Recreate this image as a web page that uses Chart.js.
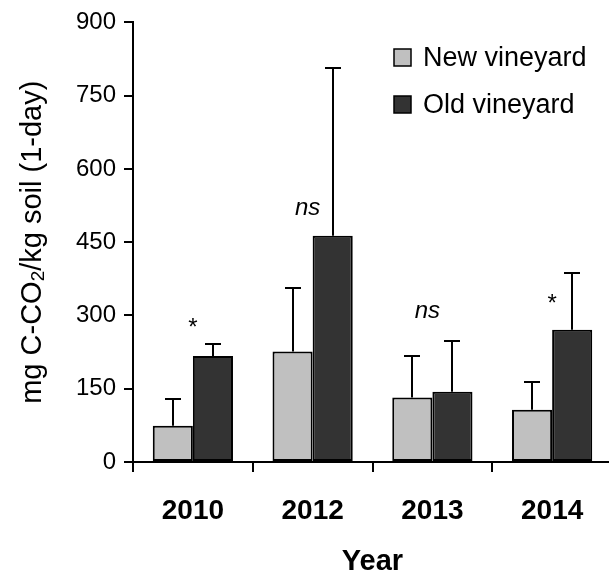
<!DOCTYPE html>
<html>
<head>
<meta charset="utf-8">
<script src="https://cdn.jsdelivr.net/npm/chart.js@4"></script>
<style>
  html, body { margin: 0; padding: 0; background: #fff; overflow: hidden; }
  #wrap { width: 614px; height: 579px; position: relative; }
</style>
</head>
<body>
<div id="wrap"><canvas id="c"></canvas></div>
<script>
// Soil respiration, 1-day incubation
const years = ['2010', '2012', '2013', '2014'];
const newVineyard = [74, 226, 132, 107];
const oldVineyard = [217, 463, 144, 271];
const newErr = [54, 131, 86, 57];
const oldErr = [25, 344, 103, 115];
const sigText = ['*', 'ns', 'ns', '*'];
const sigAt = [260, 505, 295, 309];
const yTicks = [0, 150, 300, 450, 600, 750, 900];

const FONT = '"Liberation Sans", Arial, Helvetica, sans-serif';

// whiskers above each bar
const errorBars = {
  id: 'errorBars',
  afterDatasetsDraw(chart) {
    const ctx = chart.ctx, ys = chart.scales.y;
    [newErr, oldErr].forEach((errs, di) => {
      const meta = chart.getDatasetMeta(di);
      const vals = chart.data.datasets[di].data;
      meta.data.forEach((bar, i) => {
        const x = Math.round(bar.x);
        const y0 = ys.getPixelForValue(vals[i]);
        const y1 = Math.round(ys.getPixelForValue(vals[i] + errs[i]));
        ctx.save();
        ctx.strokeStyle = '#000';
        ctx.lineWidth = 2;
        ctx.beginPath();
        ctx.moveTo(x, y0);
        ctx.lineTo(x, y1);
        ctx.moveTo(x - 8, y1);
        ctx.lineTo(x + 8, y1);
        ctx.stroke();
        ctx.restore();
      });
    });
  }
};

// significance marks over each year
const sigLabels = {
  id: 'sigLabels',
  afterDraw(chart) {
    const ctx = chart.ctx, xs = chart.scales.x, ys = chart.scales.y;
    ctx.save();
    ctx.fillStyle = '#000';
    ctx.textAlign = 'center';
    ctx.textBaseline = 'alphabetic';
    sigText.forEach((t, i) => {
      ctx.font = (t === 'ns' ? 'italic ' : '') + '24px ' + FONT;
      const shift = t === 'ns' ? -5 : 0;
      ctx.fillText(t, xs.getPixelForValue(i) + shift, ys.getPixelForValue(sigAt[i]));
    });
    ctx.restore();
  }
};

// legend boxes in the upper right of the plot
const legendBox = {
  id: 'legendBox',
  afterDraw(chart) {
    const ctx = chart.ctx;
    ctx.save();
    chart.data.datasets.forEach((ds, i) => {
      const cy = 57.5 + i * 47;
      ctx.fillStyle = ds.backgroundColor;
      ctx.fillRect(394, cy - 8.5, 17, 17);
      ctx.strokeStyle = '#000';
      ctx.lineWidth = 1.5;
      ctx.strokeRect(394, cy - 8.5, 17, 17);
      ctx.fillStyle = '#000';
      ctx.font = '27px ' + FONT;
      ctx.textAlign = 'left';
      ctx.textBaseline = 'middle';
      ctx.fillText(ds.label, 423, cy + 1);
    });
    ctx.restore();
  }
};

// rotated y-axis title with subscript 2
const yTitle = {
  id: 'yTitle',
  afterDraw(chart) {
    const ctx = chart.ctx, a = chart.chartArea;
    const parts = [
      { t: 'mg C-CO', s: 29, dy: 0 },
      { t: '2', s: 19, dy: 3 },
      { t: '/kg soil (1-day)', s: 29, dy: 0 }
    ];
    ctx.save();
    ctx.translate(41, (a.top + a.bottom) / 2);
    ctx.rotate(-Math.PI / 2);
    ctx.fillStyle = '#000';
    ctx.textBaseline = 'alphabetic';
    ctx.textAlign = 'left';
    let total = 0;
    parts.forEach(p => { ctx.font = p.s + 'px ' + FONT; p.w = ctx.measureText(p.t).width; total += p.w; });
    let x = -total / 2;
    parts.forEach(p => {
      ctx.font = p.s + 'px ' + FONT;
      ctx.fillText(p.t, x, p.dy);
      x += p.w;
    });
    ctx.restore();
  }
};

new Chart(document.getElementById('c'), {
  type: 'bar',
  data: {
    labels: years,
    datasets: [
      { label: 'New vineyard', data: newVineyard, backgroundColor: '#C0C0C0',
        borderColor: '#000', borderWidth: 2, borderSkipped: false },
      { label: 'Old vineyard', data: oldVineyard, backgroundColor: '#333333',
        borderColor: '#000', borderWidth: 2, borderSkipped: false }
    ]
  },
  options: {
    responsive: true,
    maintainAspectRatio: false,
    animation: false,
    events: [],
    layout: { padding: { top: 22, right: 2, left: 0, bottom: 0 } },
    datasets: { bar: { categoryPercentage: 0.67, barPercentage: 1.0 } },
    plugins: { legend: { display: false }, tooltip: { enabled: false } },
    scales: {
      x: {
        border: { color: '#000', width: 2 },
        grid: { drawOnChartArea: false, drawTicks: true, tickLength: 10, color: '#000', lineWidth: 2, offset: true },
        ticks: { color: '#000', font: { family: FONT, size: 28, weight: 'bold' }, padding: 22 },
        title: { display: true, text: 'Year', color: '#000',
                 font: { family: FONT, size: 29, weight: 'bold' }, padding: { top: 0, bottom: 0 } },
        afterFit: s => { s.height = 117; }
      },
      y: {
        min: 0, max: 900,
        afterBuildTicks: s => { s.ticks = yTicks.map(v => ({ value: v })); },
        border: { color: '#000', width: 2 },
        grid: { drawOnChartArea: false, drawTicks: true, tickLength: 9, color: '#000', lineWidth: 2 },
        ticks: { color: '#000', font: { family: FONT, size: 24 }, padding: 8 },
        afterFit: s => { s.width = 133; }
      }
    }
  },
  plugins: [errorBars, sigLabels, legendBox, yTitle]
});
</script>
</body>
</html>
